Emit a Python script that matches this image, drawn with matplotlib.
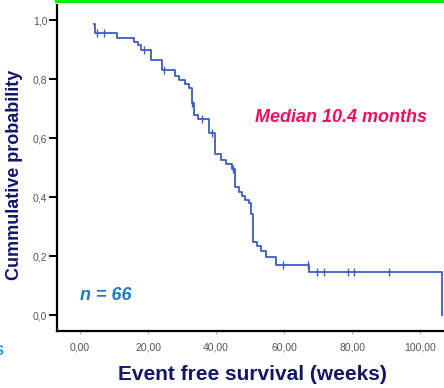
import matplotlib
matplotlib.use("Agg")
import matplotlib.pyplot as plt
from matplotlib.patches import Rectangle

# Kaplan-Meier curve (weeks, survival after the step)
step_times = [4.2, 4.6, 10.8, 15.9, 17.2, 18.1, 20.8, 24.1, 27.8, 29.2, 31.0,
              32.1, 32.8, 33.5, 34.6, 38.0, 39.6, 41.5, 43.0, 44.6, 45.6,
              46.6, 47.5, 48.6, 49.6, 50.2, 50.8, 51.9, 53.3, 54.7, 57.7,
              67.4, 106.3]
step_levels = [0.985, 0.955, 0.940, 0.927, 0.915, 0.898, 0.864, 0.831, 0.812,
               0.796, 0.782, 0.768, 0.718, 0.678, 0.665, 0.616, 0.546, 0.527,
               0.512, 0.494, 0.435, 0.418, 0.405, 0.391, 0.380, 0.342, 0.248,
               0.233, 0.216, 0.197, 0.171, 0.145, 0.0]

# censored cases
censor_times = [4.9, 7.0, 18.9, 24.8, 33.0, 35.8, 38.8, 45.0, 59.6, 66.9,
                69.6, 71.6, 78.7, 80.5, 90.7]
censor_levels = [0.955, 0.955, 0.898, 0.831, 0.718, 0.665, 0.616, 0.494,
                 0.171, 0.171, 0.145, 0.145, 0.145, 0.145, 0.145]

x_ticks = [0, 20, 40, 60, 80, 100]
x_labels = ["0,00", "20,00", "40,00", "60,00", "80,00", "100,00"]
y_ticks = [0.0, 0.2, 0.4, 0.6, 0.8, 1.0]
y_labels = ["0,0", "0,2", "0,4", "0,6", "0,8", "1,0"]

plt.rcParams['font.family'] = ['Liberation Sans', 'DejaVu Sans']

fig = plt.figure(figsize=(4.44, 3.88), dpi=100)
ax = fig.add_axes([57 / 444, 1 - 331 / 388, 1 - 57 / 444, (331 - 5) / 388])

curve_col = '#3b5cc4'
ax.step(step_times, step_levels, where='post', color=curve_col, lw=1.3)
ax.plot(censor_times, censor_levels, ls='none', marker='|', ms=6, mew=1.0,
        color=curve_col)

ax.set_xlim(-6.7, 106.9)
ax.set_ylim(-0.054, 1.051)

for s in ['top', 'right']:
    ax.spines[s].set_visible(False)
for s in ['left', 'bottom']:
    ax.spines[s].set_linewidth(1.6)
    ax.spines[s].set_color('black')

ax.set_yticks(y_ticks)
ax.set_yticklabels(y_labels)
ax.set_xticks(x_ticks)
ax.set_xticklabels(x_labels)
ax.tick_params(axis='y', length=6, width=1.4, pad=1, labelsize=7.5,
               labelcolor='#555555')
ax.tick_params(axis='x', length=2, width=0.8, color='#aaaaaa', pad=6,
               labelsize=7.5, labelcolor='#555555')

navy = '#12166a'
fig.text(15 / 444, 1 - 175 / 388, "Cummulative probability", rotation=90,
         ha='center', va='center', fontsize=13, fontweight='bold', color=navy)
fig.text(252 / 444, 1 - 375 / 388, "Event free survival (weeks)",
         ha='center', va='center', fontsize=15, fontweight='bold', color=navy)

fig.text(341 / 444, 1 - 118 / 388, "Median 10.4 months", ha='center',
         va='center', fontsize=13, fontweight='bold', fontstyle='italic',
         color='#ee1060')
fig.text(80 / 444, 1 - 296 / 388, "n = 66", ha='left', va='center',
         fontsize=13, fontweight='bold', fontstyle='italic', color='#1f78c2')

# cropped bits of the slide
fig.text(-6 / 444, 1 - 351 / 388, "S", ha='left', va='center', fontsize=11,
         fontweight='bold', color='#3399dd')
fig.add_artist(Rectangle((55 / 444, 1 - 3 / 388), 1, 3 / 388,
                         transform=fig.transFigure, color='#00ee00', lw=0))

fig.savefig("out.png", dpi=100)
